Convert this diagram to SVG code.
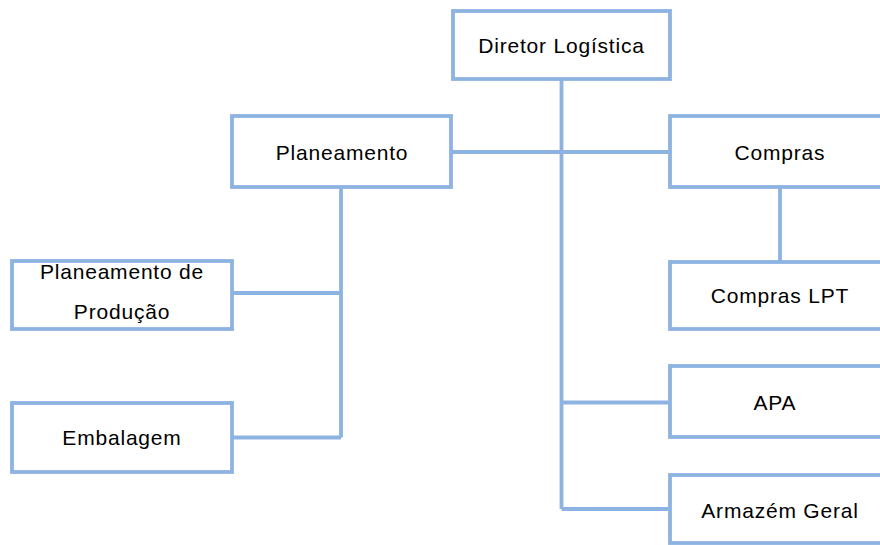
<svg xmlns="http://www.w3.org/2000/svg" width="880" height="545" viewBox="0 0 880 545">
  <style>
    .box { fill: #ffffff; stroke: #8DB3E2; stroke-width: 3.8; }
    .link { fill: none; stroke: #8DB3E2; stroke-width: 3.8; }
    .label { font-family: "Liberation Sans", Arial, sans-serif; font-size: 21px; letter-spacing: 0.8px; fill: #000000; text-anchor: middle; }
  </style>
  <rect width="880" height="545" fill="#ffffff"/>

  <!-- connectors -->
  <g id="connectors">
    <path class="link" d="M561.5 79 V509"/>
    <path class="link" d="M451 152 H670"/>
    <path class="link" d="M780 187 V262"/>
    <path class="link" d="M561.5 402.5 H670"/>
    <path class="link" d="M561.5 509 H670"/>
    <path class="link" d="M341 187 V437.5"/>
    <path class="link" d="M232 293 H341"/>
    <path class="link" d="M232 437.5 H341"/>
  </g>

  <!-- nodes -->
  <g id="diretor-logistica">
    <rect class="box" x="453" y="11" width="217" height="68"/>
    <text class="label" x="561.5" y="53">Diretor Logística</text>
  </g>
  <g id="planeamento">
    <rect class="box" x="232" y="116" width="219" height="71"/>
    <text class="label" x="342" y="160">Planeamento</text>
  </g>
  <g id="compras">
    <rect class="box" x="670" y="116" width="217" height="71"/>
    <text class="label" x="780" y="160">Compras</text>
  </g>
  <g id="planeamento-producao">
    <rect class="box" x="12" y="261" width="220" height="68"/>
    <text class="label" x="122" y="279">Planeamento de</text>
    <text class="label" x="122" y="319">Produção</text>
  </g>
  <g id="embalagem">
    <rect class="box" x="12" y="403" width="220" height="69"/>
    <text class="label" x="122" y="445">Embalagem</text>
  </g>
  <g id="compras-lpt">
    <rect class="box" x="670" y="262" width="217" height="67"/>
    <text class="label" x="780" y="303">Compras LPT</text>
  </g>
  <g id="apa">
    <rect class="box" x="670" y="366" width="217" height="71"/>
    <text class="label" x="775" y="410">APA</text>
  </g>
  <g id="armazem-geral">
    <rect class="box" x="670" y="475" width="217" height="68"/>
    <text class="label" x="780" y="518">Armazém Geral</text>
  </g>
</svg>
